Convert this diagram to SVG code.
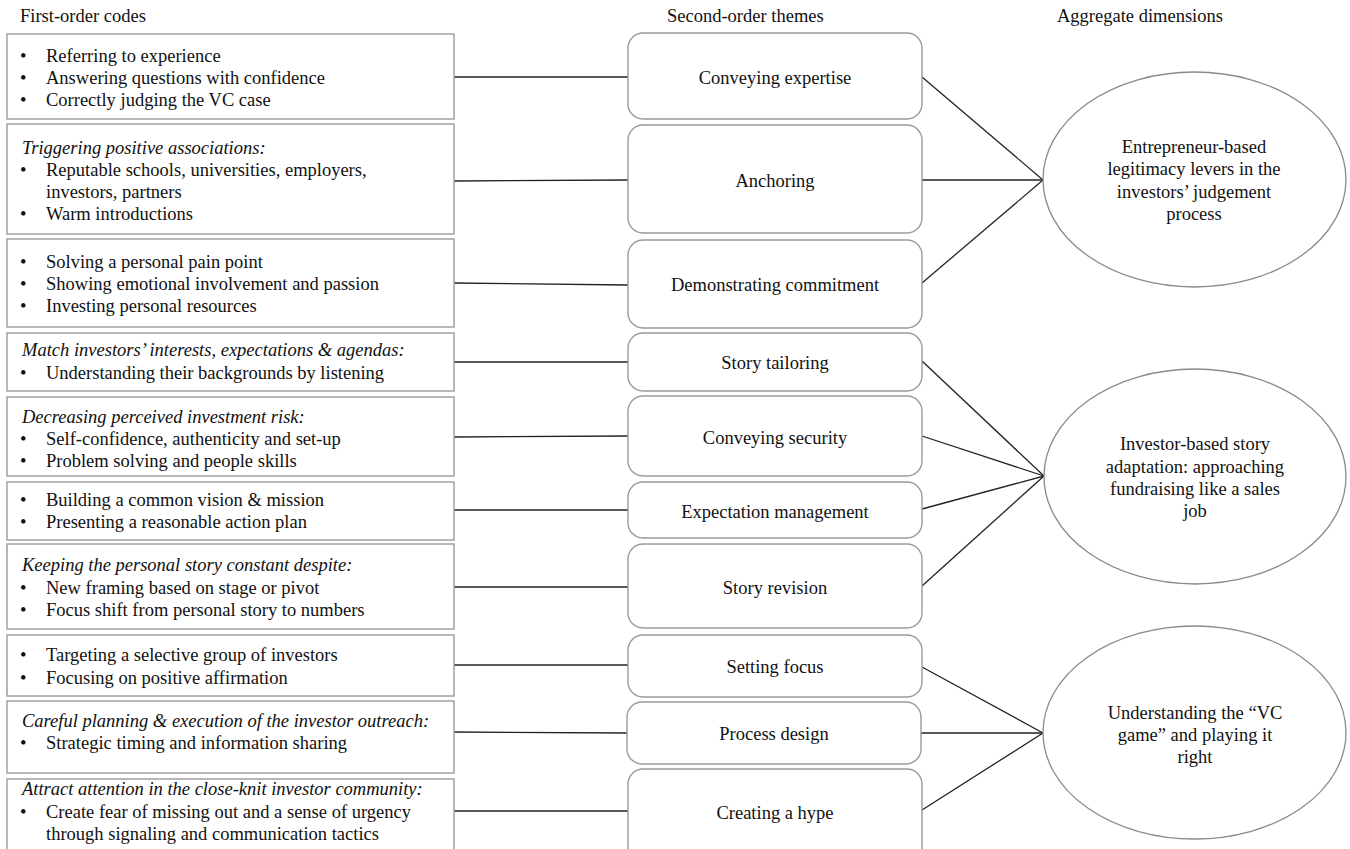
<svg xmlns="http://www.w3.org/2000/svg" width="1350" height="849" viewBox="0 0 1350 849">
<style>
text{font-family:"Liberation Serif","Times New Roman",serif;font-size:18.5px;fill:#111}
.it{font-style:italic}
.c{text-anchor:middle}
.box{fill:#fff;stroke:#9a9a9a;stroke-width:1.4}
.rbox{fill:#fff;stroke:#9a9a9a;stroke-width:1.4}
.ell{fill:#fff;stroke:#8a8a8a;stroke-width:1.3}
.con line{stroke:#222;stroke-width:1.3}
</style>
<rect width="1350" height="849" fill="#fff"/>
<g id="headers">
<text x="20" y="22">First-order codes</text>
<text x="667" y="22">Second-order themes</text>
<text x="1057" y="22">Aggregate dimensions</text>
</g>
<g id="connectors" class="con">
<line x1="454" y1="77" x2="628" y2="77"/>
<line x1="454" y1="181" x2="628" y2="180"/>
<line x1="454" y1="283" x2="628" y2="285"/>
<line x1="454" y1="362" x2="628" y2="362"/>
<line x1="454" y1="437" x2="628" y2="436"/>
<line x1="454" y1="510" x2="628" y2="510"/>
<line x1="454" y1="587" x2="628" y2="587"/>
<line x1="454" y1="665" x2="628" y2="665"/>
<line x1="454" y1="732" x2="627" y2="733"/>
<line x1="454" y1="811" x2="628" y2="811"/>
<line x1="922" y1="77" x2="1043" y2="180"/>
<line x1="922" y1="180" x2="1043" y2="180"/>
<line x1="922" y1="283" x2="1043" y2="180"/>
<line x1="922" y1="361" x2="1044" y2="476"/>
<line x1="922" y1="436" x2="1044" y2="476"/>
<line x1="922" y1="509" x2="1044" y2="476"/>
<line x1="922" y1="586" x2="1044" y2="476"/>
<line x1="922" y1="667" x2="1043" y2="733"/>
<line x1="921" y1="733" x2="1043" y2="733"/>
<line x1="922" y1="810" x2="1043" y2="733"/>
</g>
<g id="code1"><rect class="box" x="7" y="34" width="447" height="85"/>
<text x="20" y="61.5">•</text><text x="46" y="61.5">Referring to experience</text>
<text x="20" y="83.5">•</text><text x="46" y="83.5">Answering questions with confidence</text>
<text x="20" y="105.5">•</text><text x="46" y="105.5">Correctly judging the VC case</text></g>
<g id="code2"><rect class="box" x="7" y="124" width="447" height="110"/>
<text class="it" x="22" y="154">Triggering positive associations:</text>
<text x="20" y="176">•</text><text x="46" y="176">Reputable schools, universities, employers,</text>
<text x="46" y="198">investors, partners</text>
<text x="20" y="220">•</text><text x="46" y="220">Warm introductions</text></g>
<g id="code3"><rect class="box" x="7" y="239" width="447" height="88"/>
<text x="20" y="268">•</text><text x="46" y="268">Solving a personal pain point</text>
<text x="20" y="290">•</text><text x="46" y="290">Showing emotional involvement and passion</text>
<text x="20" y="312">•</text><text x="46" y="312">Investing personal resources</text></g>
<g id="code4"><rect class="box" x="7" y="333" width="447" height="58"/>
<text class="it" x="22" y="356">Match investors’ interests, expectations &amp; agendas:</text>
<text x="20" y="378.5">•</text><text x="46" y="378.5">Understanding their backgrounds by listening</text></g>
<g id="code5"><rect class="box" x="7" y="397" width="447" height="79"/>
<text class="it" x="22" y="423">Decreasing perceived investment risk:</text>
<text x="20" y="445">•</text><text x="46" y="445">Self-confidence, authenticity and set-up</text>
<text x="20" y="467">•</text><text x="46" y="467">Problem solving and people skills</text></g>
<g id="code6"><rect class="box" x="7" y="482" width="447" height="58"/>
<text x="20" y="505.5">•</text><text x="46" y="505.5">Building a common vision &amp; mission</text>
<text x="20" y="528">•</text><text x="46" y="528">Presenting a reasonable action plan</text></g>
<g id="code7"><rect class="box" x="7" y="544" width="447" height="85"/>
<text class="it" x="22" y="571">Keeping the personal story constant despite:</text>
<text x="20" y="593.5">•</text><text x="46" y="593.5">New framing based on stage or pivot</text>
<text x="20" y="616">•</text><text x="46" y="616">Focus shift from personal story to numbers</text></g>
<g id="code8"><rect class="box" x="7" y="635" width="447" height="61"/>
<text x="20" y="661">•</text><text x="46" y="661">Targeting a selective group of investors</text>
<text x="20" y="683.5">•</text><text x="46" y="683.5">Focusing on positive affirmation</text></g>
<g id="code9"><rect class="box" x="7" y="701" width="447" height="72"/>
<text class="it" x="22" y="727">Careful planning &amp; execution of the investor outreach:</text>
<text x="20" y="749">•</text><text x="46" y="749">Strategic timing and information sharing</text></g>
<g id="code10"><rect class="box" x="7" y="779" width="447" height="80"/>
<text class="it" x="22" y="795">Attract attention in the close-knit investor community:</text>
<text x="20" y="817.5">•</text><text x="46" y="817.5">Create fear of missing out and a sense of urgency</text>
<text x="46" y="840">through signaling and communication tactics</text></g>
<g id="theme1"><rect class="rbox" x="628" y="33" width="294" height="86" rx="15"/><text class="c" x="775" y="83.5">Conveying expertise</text></g>
<g id="theme2"><rect class="rbox" x="628" y="125" width="294" height="108" rx="15"/><text class="c" x="775" y="186.5">Anchoring</text></g>
<g id="theme3"><rect class="rbox" x="628" y="240" width="294" height="88" rx="15"/><text class="c" x="775" y="290.5">Demonstrating commitment</text></g>
<g id="theme4"><rect class="rbox" x="628" y="333" width="294" height="58" rx="15"/><text class="c" x="775" y="369">Story tailoring</text></g>
<g id="theme5"><rect class="rbox" x="628" y="396" width="294" height="80" rx="15"/><text class="c" x="775" y="444">Conveying security</text></g>
<g id="theme6"><rect class="rbox" x="628" y="482" width="294" height="56" rx="15"/><text class="c" x="775" y="517.5">Expectation management</text></g>
<g id="theme7"><rect class="rbox" x="628" y="544" width="294" height="84" rx="15"/><text class="c" x="775" y="594">Story revision</text></g>
<g id="theme8"><rect class="rbox" x="628" y="635" width="294" height="62" rx="15"/><text class="c" x="775" y="673">Setting focus</text></g>
<g id="theme9"><rect class="rbox" x="627" y="702" width="294" height="62" rx="15"/><text class="c" x="774" y="739.5">Process design</text></g>
<g id="theme10"><rect class="rbox" x="628" y="769" width="294" height="95" rx="15"/><text class="c" x="775" y="818.5">Creating a hype</text></g>
<g id="dim1"><ellipse class="ell" cx="1194.5" cy="179.5" rx="151.5" ry="107.5"/>
<text class="c" x="1194" y="153">Entrepreneur-based</text>
<text class="c" x="1194" y="175">legitimacy levers in the</text>
<text class="c" x="1194" y="197.5">investors’ judgement</text>
<text class="c" x="1194" y="219.5">process</text></g>
<g id="dim2"><ellipse class="ell" cx="1195" cy="476.5" rx="151" ry="107.5"/>
<text class="c" x="1195" y="450">Investor-based story</text>
<text class="c" x="1195" y="472.5">adaptation: approaching</text>
<text class="c" x="1195" y="495">fundraising like a sales</text>
<text class="c" x="1195" y="517">job</text></g>
<g id="dim3"><ellipse class="ell" cx="1194.5" cy="732.5" rx="151.5" ry="106.5"/>
<text class="c" x="1195" y="718.5">Understanding the “VC</text>
<text class="c" x="1195" y="741">game” and playing it</text>
<text class="c" x="1195" y="763">right</text></g>
</svg>
